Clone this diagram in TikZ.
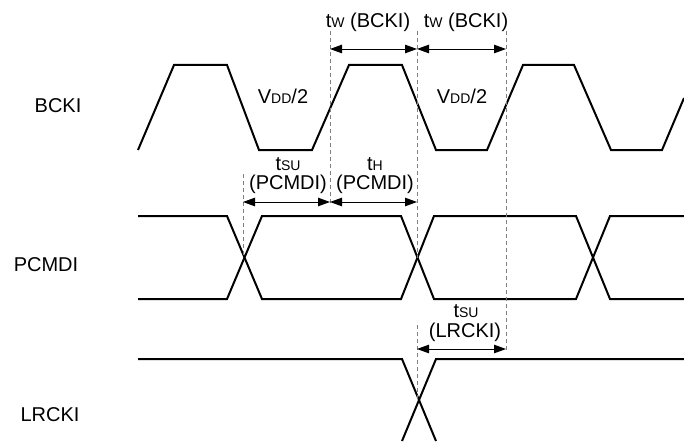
\documentclass[tikz,border=0pt]{standalone}
\usepackage{fontspec}
\setmainfont{Liberation Sans}
\usetikzlibrary{arrows.meta}
\newcommand\smtxt[1]{{\fontsize{14}{14}\selectfont #1}}
\begin{document}
\begin{tikzpicture}[x=1pt,y=-1pt,
  wave/.style={line width=2pt, line join=miter},
  guide/.style={gray, line width=0.9pt, dash pattern=on 4pt off 3pt},
  dim/.style={line width=0.9pt, {Triangle[length=12pt,width=8.5pt]}-{Triangle[length=12pt,width=8.5pt]}},
  lbl/.style={font=\fontsize{20}{20}\selectfont, anchor=base, inner sep=0pt},
]
\useasboundingbox (0,0) rectangle (684,441);

% signal names
\node[lbl] (bcki) at (58,112) {BCKI};
\node[lbl] (pcmdi) at (46,271) {PCMDI};
\node[lbl] (lrcki) at (50,421) {LRCKI};

% BCKI waveform
\draw[wave] (138,150) -- (174,65) -- (227,65) -- (259,150) -- (312,150) -- (349,65)
  -- (402,65) -- (436,150) -- (487,150) -- (523,65) -- (574,65) -- (611,150)
  -- (662,150) -- (684,98);

% PCMDI waveform
\draw[wave] (138,216) -- (227,216) -- (262,299) -- (401,299) -- (434,216) -- (576,216) -- (610,299) -- (684,299);
\draw[wave] (138,299) -- (227,299) -- (262,216) -- (401,216) -- (434,299) -- (576,299) -- (610,216) -- (684,216);

% LRCKI waveform
\draw[wave] (138,359) -- (402,359) -- (436,441);
\draw[wave] (402,441) -- (436,359) -- (684,359);

% guide line end points
\coordinate (a1) at (243,174);
\coordinate (a2) at (243,258);
\coordinate (b1) at (330,31);
\coordinate (b2) at (330,205);
\coordinate (c1) at (417,31);
\coordinate (c2) at (417,258);
\coordinate (c3) at (417,325);
\coordinate (c4) at (417,400);
\coordinate (d1) at (506,31);
\coordinate (d2) at (506,350);

\draw[guide] (a1) -- (a2);
\draw[guide] (b1) -- (b2);
\draw[guide] (c1) -- (c2);
\draw[guide] (c3) -- (c4);
\draw[guide] (d1) -- (d2);

% dimension arrows
\coordinate (tw1) at (330,49);
\coordinate (tw2) at (417,49);
\coordinate (tw3) at (506,49);
\coordinate (p1) at (243,202);
\coordinate (p2) at (330,202);
\coordinate (p3) at (417,202);
\coordinate (l1) at (417,349);
\coordinate (l2) at (506,349);

\draw[dim] (tw1) -- (tw2);
\draw[dim] (tw2) -- (tw3);
\draw[dim] (p1) -- (p2);
\draw[dim] (p2) -- (p3);
\draw[dim] (l1) -- (l2);

% labels
\node[lbl] (vdd1) at (283,103) {V\smtxt{DD}/2};
\node[lbl] (vdd2) at (462,103) {V\smtxt{DD}/2};
\node[lbl] (tw1l) at (368,28) {t\smtxt{W} (BCKI)};
\node[lbl] (tw2l) at (466,28) {t\smtxt{W} (BCKI)};
\node[lbl] (tsu1) at (288,170) {t\smtxt{SU}};
\node[lbl] (tsu1b) at (288,189) {(PCMDI)};
\node[lbl] (th1) at (375,170) {t\smtxt{H}};
\node[lbl] (th1b) at (375,189) {(PCMDI)};
\node[lbl] (tsu2) at (466,317) {t\smtxt{SU}};
\node[lbl] (tsu2b) at (465,337) {(LRCKI)};
\end{tikzpicture}
\end{document}
